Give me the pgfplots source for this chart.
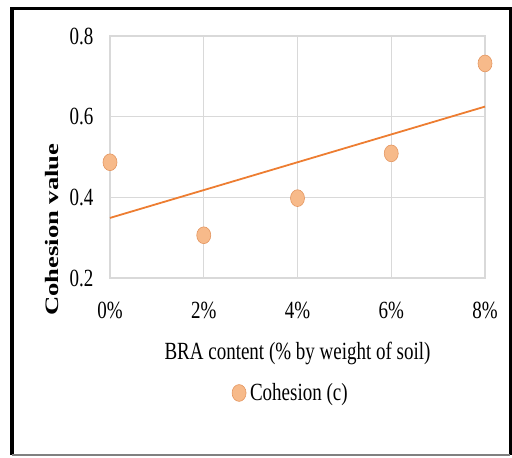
\documentclass[border=0pt]{standalone}
\usepackage{fontspec}
\setmainfont{Liberation Serif}
\usepackage{pgfplots}
\pgfplotsset{compat=1.18}
\definecolor{gridc}{RGB}{217,217,217}
\definecolor{trendc}{RGB}{237,125,49}
\definecolor{markc}{RGB}{247,186,138}
\definecolor{markd}{RGB}{228,150,96}
% the reference is stretched vertically, so the text is too
\newcommand{\st}[1]{\scalebox{1}[1.3]{#1}}
\begin{document}
\fontsize{9.5}{11}\selectfont
\begin{tikzpicture}[x=1pt,y=1pt]
\path (0,0) rectangle (256,228.5);
% frame
\draw[black, line width=2pt] (6,1) -- (6,224.25);
\draw[black, line width=1.5pt] (5,224.25) -- (255.2,224.25) -- (255.2,1);
\draw[gray, line width=1pt] (6,1) -- (255.2,1);
\begin{axis}[
  at={(55pt,89.5pt)}, anchor=south west,
  scale only axis, width=187.5pt, height=121pt,
  xmin=0, xmax=4, ymin=0.2, ymax=0.8,
  xtick={0,1,2,3,4},
  xticklabels={\st{0\%},\st{2\%},\st{4\%},\st{6\%},\st{8\%}},
  ytick={0.2,0.4,0.6,0.8},
  yticklabel={\st{\pgfmathprintnumber[fixed,fixed zerofill,precision=1]{\tick}}},
  /pgf/number format/assume math mode=true,
  major tick length=0pt,
  grid=major,
  grid style={gridc, line width=0.6pt},
  axis line style={gridc, line width=0.6pt},
  clip=false,
  xticklabel style={yshift=-8.5pt},
  yticklabel style={xshift=-5pt},
  xlabel={\st{BRA content (\% by weight of soil)}},
  xlabel style={at={(axis description cs:0.5,-0.31)}, anchor=center},
  ylabel={\scalebox{1.4}[1]{\bfseries Cohesion value}},
  ylabel style={at={(axis description cs:-0.155,0.2)}, anchor=center},
  legend style={at={(axis description cs:0.485,-0.475)}, anchor=center,
    draw=none, fill=none},
]
\addplot[trendc, line width=0.9pt, forget plot] coordinates {(0,0.349) (4,0.625)};
\addplot[only marks, mark=*, mark size=3.5pt,
  mark options={fill=markc, draw=markd, line width=0.3pt, yscale=1.2}]
  coordinates {(0,0.487) (1,0.306) (2,0.398) (3,0.509) (4,0.732)};
\addlegendentry{\st{Cohesion (c)}}
\end{axis}
\end{tikzpicture}
\end{document}
